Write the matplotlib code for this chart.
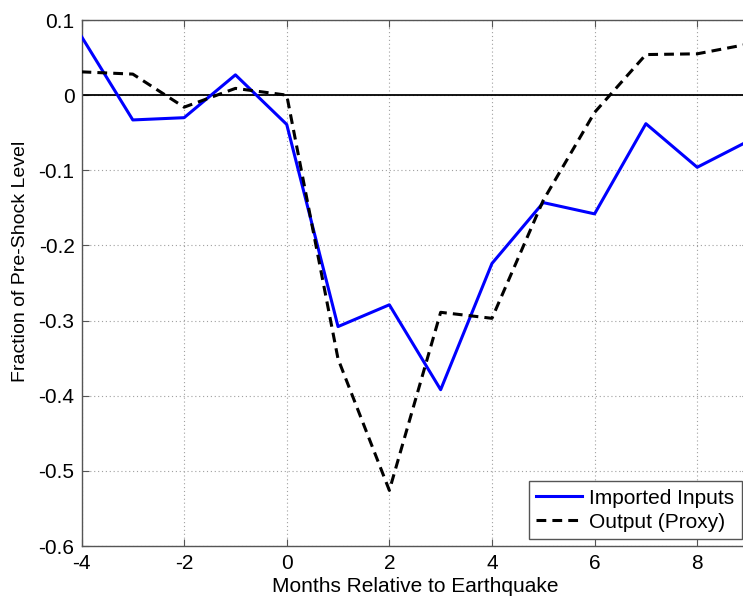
import matplotlib
matplotlib.use("Agg")
import matplotlib.pyplot as plt

# months relative to the earthquake
months = [-4, -3, -2, -1, 0, 1, 2, 3, 4, 5, 6, 7, 8, 9]

# fraction of pre-shock level
imported_inputs = [0.078, -0.033, -0.030, 0.027, -0.039, -0.308, -0.279, -0.392,
                   -0.224, -0.143, -0.158, -0.038, -0.096, -0.061]
output_proxy = [0.031, 0.028, -0.016, 0.009, 0.000, -0.351, -0.526, -0.289,
                -0.297, -0.140, -0.023, 0.054, 0.055, 0.068]

xticks = [-4, -2, 0, 2, 4, 6, 8]
yticks = [-0.6, -0.5, -0.4, -0.3, -0.2, -0.1, 0, 0.1]
ytick_labels = ["-0.6", "-0.5", "-0.4", "-0.3", "-0.2", "-0.1", "0", "0.1"]

plt.rcParams["font.family"] = ["Liberation Sans", "DejaVu Sans"]
plt.rcParams["axes.unicode_minus"] = False

fig = plt.figure(figsize=(7.43, 6.01), dpi=100)
# axes box runs slightly past the right edge, like the cropped original
ax = fig.add_axes([81.5 / 743, 55 / 601, 667 / 743, 526 / 601])

ax.axhline(0, color="black", linewidth=1.3, zorder=2)
ax.plot(months, imported_inputs, color="#0000ff", linewidth=2.2,
        label="Imported Inputs", zorder=3)
ax.plot(months, output_proxy, color="black", linewidth=2.2, linestyle=(0, (3.2, 2)),
        label="Output (Proxy)", zorder=3)

ax.set_xlim(-4, 9)
ax.set_ylim(-0.6, 0.1)
ax.set_xticks(xticks)
ax.set_yticks(yticks)
ax.set_yticklabels(ytick_labels)
ax.tick_params(direction="in", top=True, right=True, labelsize=15, length=5,
               color="#555555")
ax.tick_params(axis="x", pad=6)
ax.tick_params(axis="y", pad=5)
ax.grid(True, linestyle=(0, (1, 2.5)), color="#a0a0a0", linewidth=0.8)
for spine in ax.spines.values():
    spine.set_color("#555555")
    spine.set_linewidth(1.0)

ax.set_xlabel("Months Relative to Earthquake", fontsize=15, labelpad=3)
ax.set_ylabel("Fraction of Pre-Shock Level", fontsize=14)
ax.yaxis.set_label_coords(-0.079, 0.542)

leg = ax.legend(loc="lower right", bbox_to_anchor=(0.990, 0.0133), fontsize=15,
                fancybox=False, framealpha=1, edgecolor="#555555",
                handlelength=2.2, handletextpad=0.35, borderpad=0.35,
                labelspacing=0.25, borderaxespad=0)
leg.get_frame().set_linewidth(1.0)

fig.savefig("out.png", dpi=100)
